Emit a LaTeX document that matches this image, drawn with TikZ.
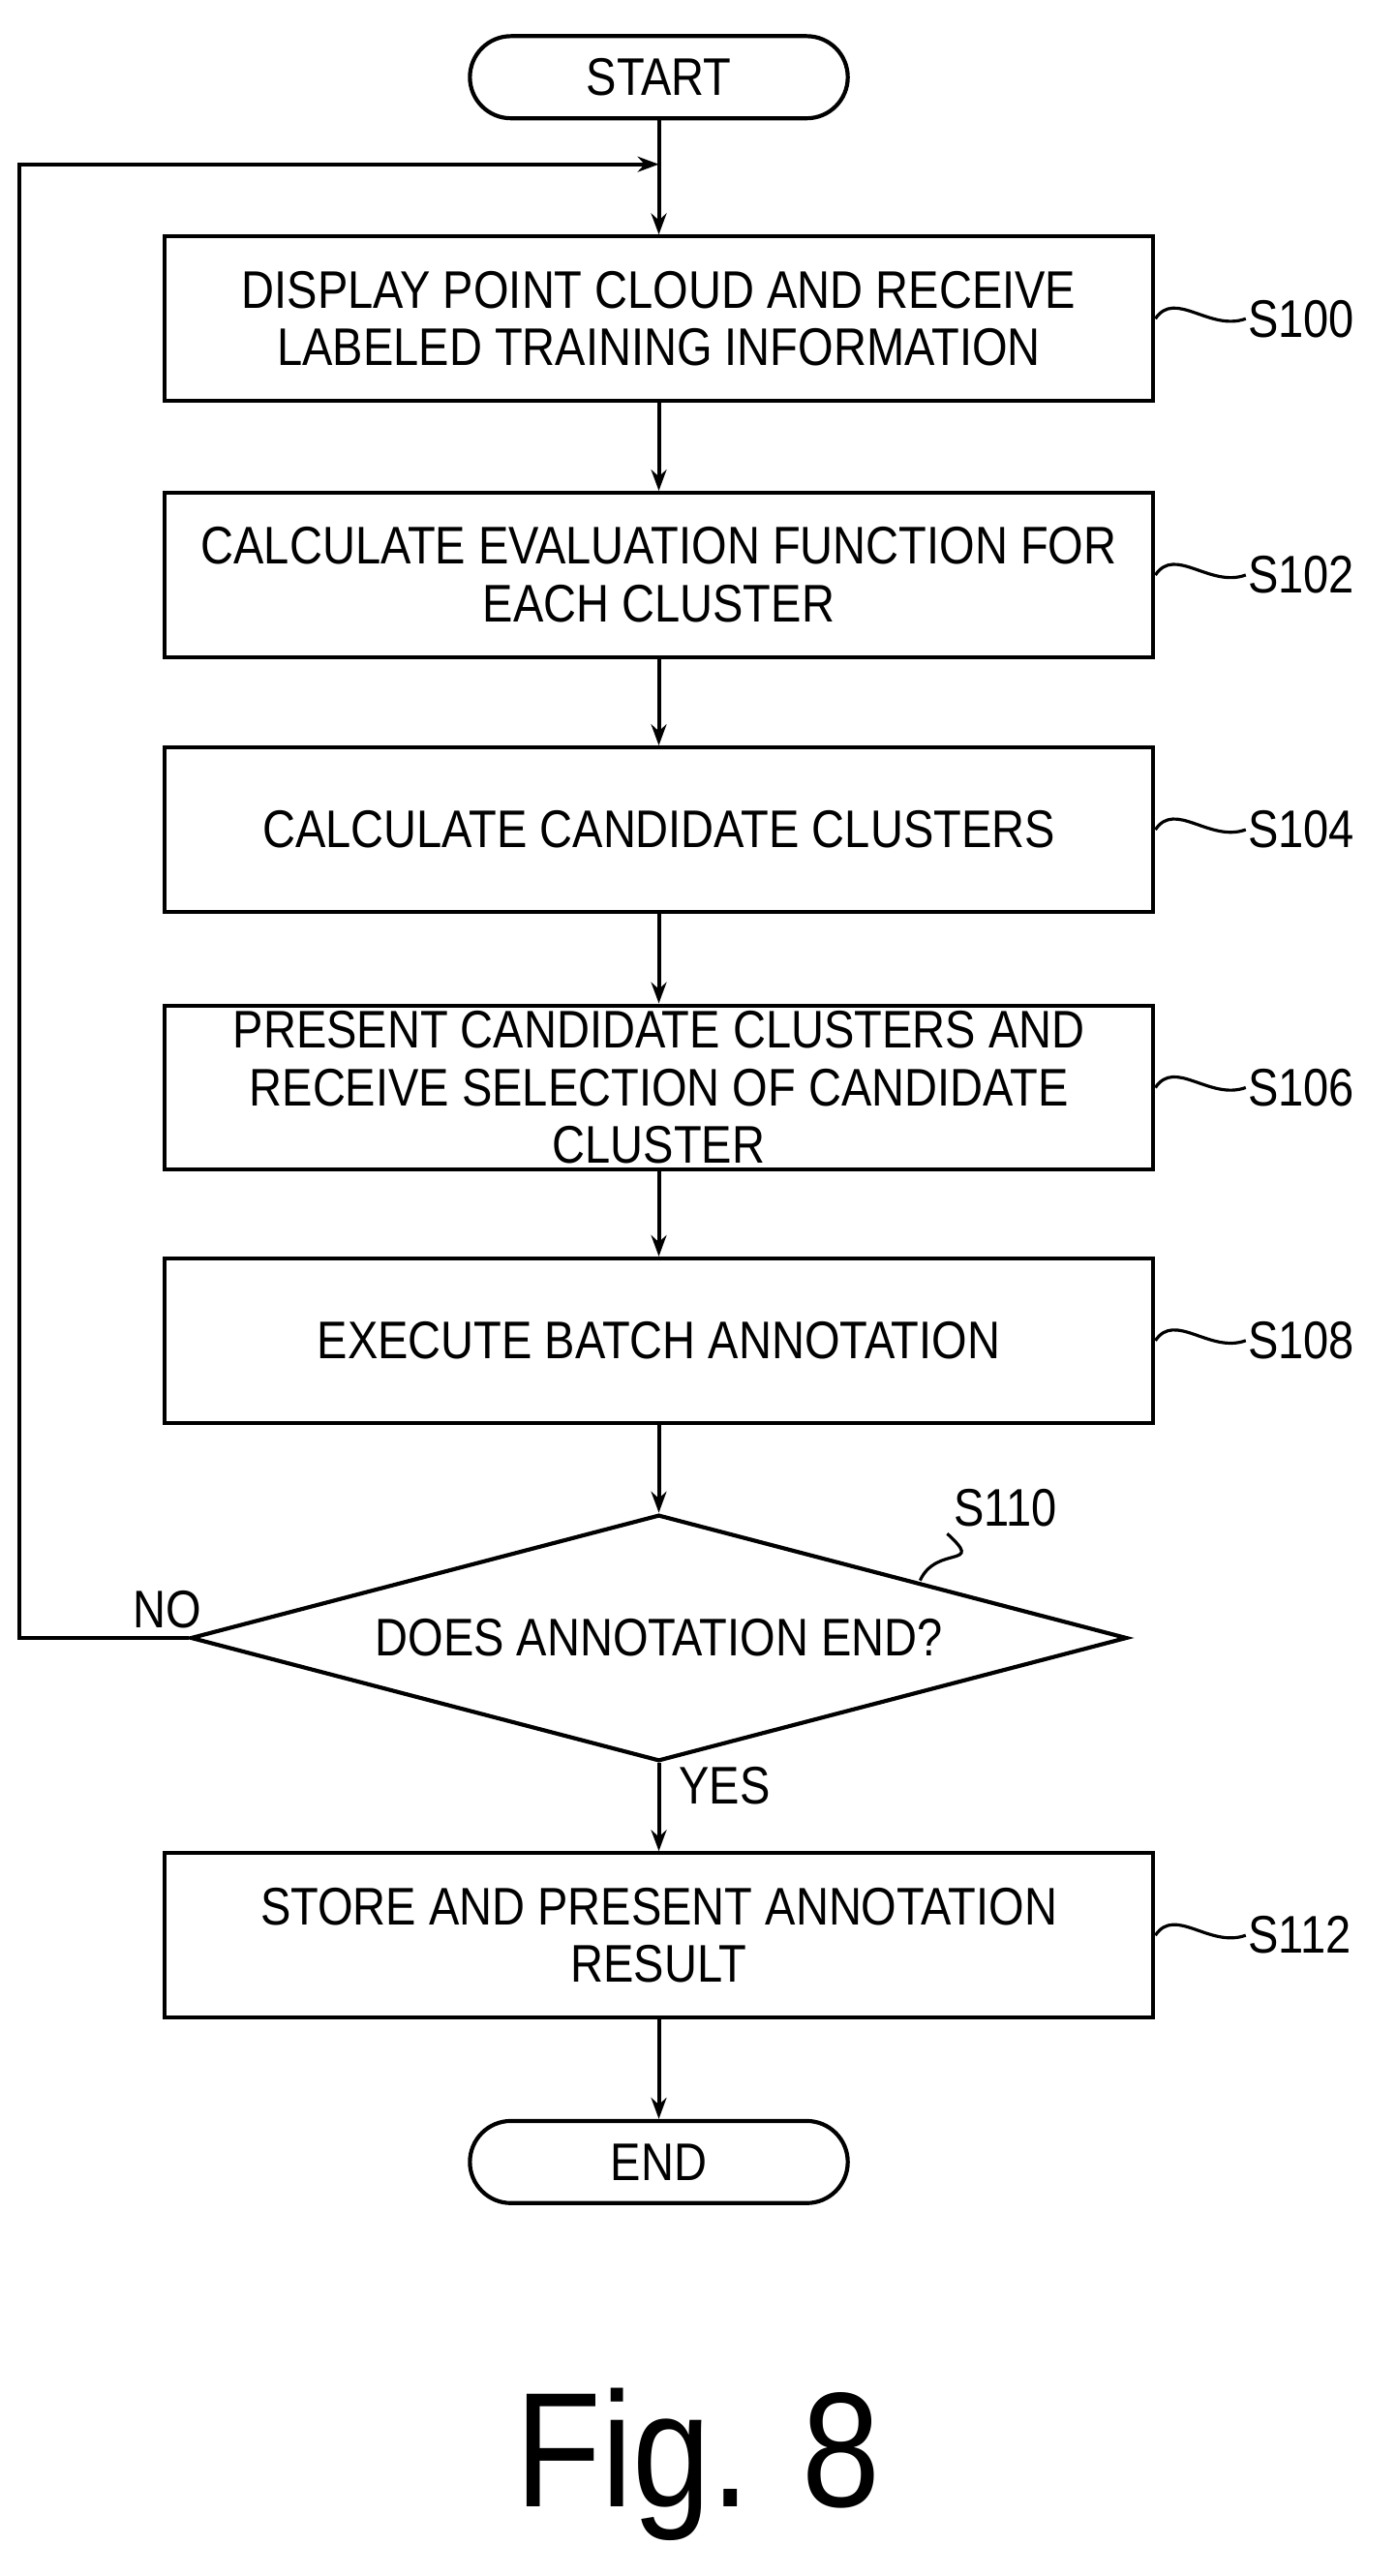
\documentclass[tikz,border=0pt]{standalone}
\usepackage{fontspec}
\setmainfont{Liberation Sans}[FakeStretch=0.86]
\usetikzlibrary{shapes.geometric,arrows.meta}
\begin{document}
\begin{tikzpicture}[x=0.03cm,y=-0.03cm,
  every node/.style={font=\fontsize{27.5}{30}\selectfont},
  box/.style={draw,line width=2.1pt,minimum width=602*0.03cm,minimum height=100*0.03cm,align=center,inner sep=0pt},
  term/.style={draw,line width=2.1pt,rounded corners=25*0.03cm,minimum width=230*0.03cm,minimum height=50*0.03cm,inner sep=0pt},
  flow/.style={line width=2pt,-{Stealth[length=11pt,width=8pt]}},
  tick/.style={line width=1.6pt}]
\useasboundingbox (0,0) rectangle (850,1568);
%terminals and steps
\node[term] (start) at (401,47) {START};
\node[box] (s100) at (401,194) {DISPLAY POINT CLOUD AND RECEIVE\\LABELED TRAINING INFORMATION};
\node[box] (s102) at (401,350) {CALCULATE EVALUATION FUNCTION FOR\\EACH CLUSTER};
\node[box] (s104) at (401,505) {CALCULATE CANDIDATE CLUSTERS};
\node[box] (s106) at (401,662) {PRESENT CANDIDATE CLUSTERS AND\\RECEIVE SELECTION OF CANDIDATE\\CLUSTER};
\node[box] (s108) at (401,816) {EXECUTE BATCH ANNOTATION};
\node[draw,line width=2.1pt,diamond,aspect=3.8,minimum width=570*0.03cm,minimum height=150*0.03cm,inner sep=0pt] (s110) at (401,997) {DOES ANNOTATION END?};
\node[box] (s112) at (401,1178) {STORE AND PRESENT ANNOTATION\\RESULT};
\node[term] (end) at (401,1316) {END};
%connectors
\coordinate (loop) at (401,100);
\draw[line width=2pt] (start) -- (loop);
\draw[flow] (loop) -- (s100);
\draw[flow] (s100) -- (s102);
\draw[flow] (s102) -- (s104);
\draw[flow] (s104) -- (s106);
\draw[flow] (s106) -- (s108);
\draw[flow] (s108) -- (s110);
\draw[flow] (s110) -- (s112);
\draw[flow] (s112) -- (end);
\draw[flow] (s110.west) -- (12,997) -- (12,100) -- (loop);
\node at (102,980) {NO};
\node at (441,1087) {YES};
%step labels
\foreach \s/\t in {s100/S100,s102/S102,s104/S104,s106/S106,s108/S108,s112/S112}{
  \node[anchor=west,inner sep=1pt] (l\s) at ([xshift=55*0.03cm]\s.east) {\t};
  \draw[tick] (\s.east) .. controls +(12,-18) and +(-22,8) .. (l\s.west);
}
\node (ls110) at (612,918) {S110};
\draw[tick] (560,962) .. controls (570,940) and (600,955) .. (ls110.south west);
\node[font=\fontsize{85}{95}\selectfont] (fig) at (425,1500) {Fig. 8};
\end{tikzpicture}
\end{document}
